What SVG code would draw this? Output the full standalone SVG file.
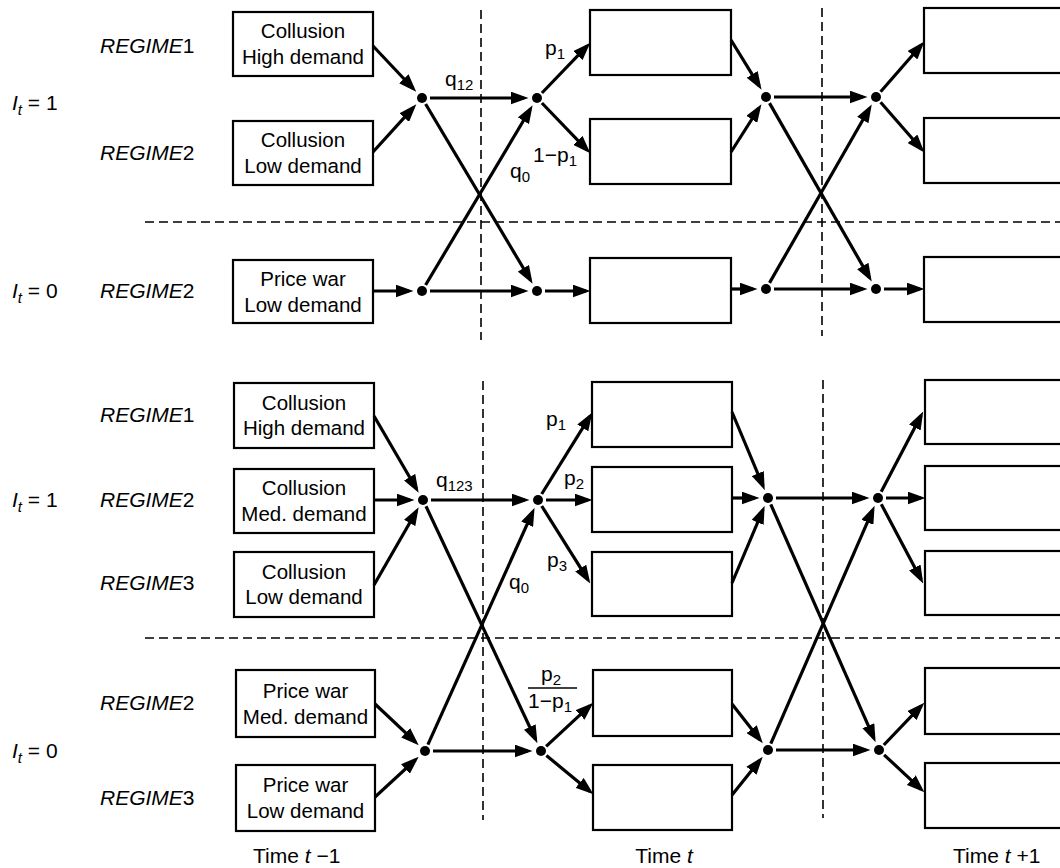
<svg xmlns="http://www.w3.org/2000/svg" width="1060" height="868" viewBox="0 0 1060 868">
<style>
text{font-family:"Liberation Sans",Arial,sans-serif;fill:#000}
.bx{fill:#fff;stroke:#000;stroke-width:2.2}
.bt{font-size:20.5px;text-anchor:middle}
.rg{font-size:21px}
.lb{font-size:21px}
.sb{font-size:15px}
.it{font-style:italic}
.dot{fill:#000}
.ar{stroke:#000;stroke-width:3.2;fill:none;marker-end:url(#ah)}
.dash{stroke:#000;stroke-width:1.6;stroke-dasharray:9 5;fill:none}
</style>
<defs>
<marker id="ah" markerUnits="userSpaceOnUse" markerWidth="18" markerHeight="13" viewBox="0 0 18 13" refX="13.5" refY="6.5" orient="auto">
<path d="M0,0 L18,6.5 L0,13 z" fill="#000"/>
</marker>
</defs>
<rect width="1060" height="868" fill="#fff"/>

<g id="guides">
<line class="dash" x1="481" y1="10" x2="481" y2="340"/>
<line class="dash" x1="822" y1="8" x2="822" y2="336"/>
<line class="dash" x1="145" y1="222" x2="1060" y2="222"/>
<line class="dash" x1="483" y1="381" x2="483" y2="820"/>
<line class="dash" x1="823" y1="380" x2="823" y2="818"/>
<line class="dash" x1="145" y1="638" x2="1060" y2="638"/>
</g>

<g id="row-labels">
<text class="rg" x="100" y="53"><tspan class="it">REGIME</tspan>1</text>
<text class="rg" x="100" y="160"><tspan class="it">REGIME</tspan>2</text>
<text class="lb" x="12" y="110"><tspan class="it">I</tspan><tspan class="it sb" dy="5">t</tspan><tspan dy="-5"> = 1</tspan></text>
<text class="lb" x="12" y="298"><tspan class="it">I</tspan><tspan class="it sb" dy="5">t</tspan><tspan dy="-5"> = 0</tspan></text>
<text class="rg" x="100" y="298"><tspan class="it">REGIME</tspan>2</text>
<text class="rg" x="100" y="422"><tspan class="it">REGIME</tspan>1</text>
<text class="rg" x="100" y="507"><tspan class="it">REGIME</tspan>2</text>
<text class="rg" x="100" y="590"><tspan class="it">REGIME</tspan>3</text>
<text class="lb" x="12" y="507"><tspan class="it">I</tspan><tspan class="it sb" dy="5">t</tspan><tspan dy="-5"> = 1</tspan></text>
<text class="rg" x="100" y="710"><tspan class="it">REGIME</tspan>2</text>
<text class="rg" x="100" y="805"><tspan class="it">REGIME</tspan>3</text>
<text class="lb" x="12" y="758"><tspan class="it">I</tspan><tspan class="it sb" dy="5">t</tspan><tspan dy="-5"> = 0</tspan></text>
</g>

<!-- top section boxes -->
<g id="A-col-high"><rect class="bx" x="233" y="12" width="140" height="64"/><text class="bt" x="303" y="38">Collusion</text><text class="bt" x="303" y="64">High demand</text></g>
<g id="A-col-low"><rect class="bx" x="233" y="121" width="140" height="64"/><text class="bt" x="303" y="147">Collusion</text><text class="bt" x="303" y="173">Low demand</text></g>
<g id="A-pw-low"><rect class="bx" x="233" y="260" width="140" height="63"/><text class="bt" x="303" y="286">Price war</text><text class="bt" x="303" y="312">Low demand</text></g>
<g id="A-t1"><rect class="bx" x="590" y="10" width="141" height="65"/></g>
<g id="A-t2"><rect class="bx" x="590" y="119" width="141" height="65"/></g>
<g id="A-t3"><rect class="bx" x="590" y="258" width="141" height="65"/></g>
<g id="A-n1"><rect class="bx" x="924" y="8" width="140" height="65"/></g>
<g id="A-n2"><rect class="bx" x="924" y="118" width="140" height="65"/></g>
<g id="A-n3"><rect class="bx" x="924" y="257" width="140" height="65"/></g>

<!-- bottom section boxes -->
<g id="B-col-high"><rect class="bx" x="234" y="383" width="140" height="65"/><text class="bt" x="304" y="410">Collusion</text><text class="bt" x="304" y="435">High demand</text></g>
<g id="B-col-med"><rect class="bx" x="234" y="469" width="140" height="64"/><text class="bt" x="304" y="495">Collusion</text><text class="bt" x="304" y="521">Med. demand</text></g>
<g id="B-col-low"><rect class="bx" x="234" y="552" width="140" height="65"/><text class="bt" x="304" y="579">Collusion</text><text class="bt" x="304" y="604">Low demand</text></g>
<g id="B-pw-med"><rect class="bx" x="236" y="670" width="139" height="67"/><text class="bt" x="305.5" y="698">Price war</text><text class="bt" x="305.5" y="724">Med. demand</text></g>
<g id="B-pw-low"><rect class="bx" x="236" y="765" width="139" height="66"/><text class="bt" x="305.5" y="792">Price war</text><text class="bt" x="305.5" y="818">Low demand</text></g>
<g id="B-t1"><rect class="bx" x="592" y="382" width="140" height="65"/></g>
<g id="B-t2"><rect class="bx" x="592" y="467" width="140" height="65"/></g>
<g id="B-t3"><rect class="bx" x="592" y="552" width="140" height="64"/></g>
<g id="B-t4"><rect class="bx" x="593" y="670" width="139" height="66"/></g>
<g id="B-t5"><rect class="bx" x="593" y="765" width="139" height="65"/></g>
<g id="B-n1"><rect class="bx" x="925" y="380" width="140" height="64"/></g>
<g id="B-n2"><rect class="bx" x="925" y="466" width="140" height="64"/></g>
<g id="B-n3"><rect class="bx" x="925" y="551" width="140" height="64"/></g>
<g id="B-n4"><rect class="bx" x="925" y="668" width="140" height="66"/></g>
<g id="B-n5"><rect class="bx" x="925" y="763" width="140" height="65"/></g>

<g id="connectors">
<!-- top -->
<line class="ar" x1="373" y1="46" x2="413.1" y2="88.5"/>
<line class="ar" x1="373" y1="152" x2="413.3" y2="107.6"/>
<line class="ar" x1="430" y1="98" x2="524" y2="98"/>
<line class="ar" x1="425.6" y1="104" x2="530.3" y2="279.8"/>
<line class="ar" x1="425.6" y1="285" x2="530.3" y2="109.2"/>
<line class="ar" x1="541.9" y1="93" x2="587.2" y2="45.9"/>
<line class="ar" x1="541.9" y1="103" x2="587.2" y2="150.1"/>
<line class="ar" x1="373" y1="291" x2="409" y2="291"/>
<line class="ar" x1="430" y1="291" x2="524" y2="291"/>
<line class="ar" x1="545" y1="291" x2="586" y2="291"/>
<line class="ar" x1="731" y1="40" x2="759.2" y2="85.9"/>
<line class="ar" x1="731" y1="152" x2="759" y2="108"/>
<line class="ar" x1="774" y1="97" x2="863" y2="97"/>
<line class="ar" x1="769.5" y1="103.1" x2="869.5" y2="277.7"/>
<line class="ar" x1="769.5" y1="282.9" x2="869.5" y2="108.3"/>
<line class="ar" x1="880.6" y1="91.7" x2="921.4" y2="45"/>
<line class="ar" x1="880.6" y1="102.3" x2="921.4" y2="149"/>
<line class="ar" x1="731" y1="289" x2="753" y2="289"/>
<line class="ar" x1="774" y1="289" x2="863" y2="289"/>
<line class="ar" x1="884" y1="289" x2="920" y2="289"/>
<!-- bottom -->
<line class="ar" x1="374" y1="416" x2="416.4" y2="488.8"/>
<line class="ar" x1="374" y1="500" x2="410" y2="500"/>
<line class="ar" x1="374" y1="585" x2="416.4" y2="511.2"/>
<line class="ar" x1="431" y1="500" x2="525" y2="500"/>
<line class="ar" x1="426" y1="506.3" x2="535.5" y2="739.2"/>
<line class="ar" x1="427.9" y1="744.6" x2="532.7" y2="511.9"/>
<line class="ar" x1="541.7" y1="494" x2="589.9" y2="416.4"/>
<line class="ar" x1="546" y1="500" x2="588" y2="500"/>
<line class="ar" x1="541.7" y1="506" x2="587.9" y2="579.6"/>
<line class="ar" x1="375" y1="704" x2="415.5" y2="742.1"/>
<line class="ar" x1="375" y1="797" x2="415.4" y2="759.8"/>
<line class="ar" x1="433" y1="751" x2="528" y2="751"/>
<line class="ar" x1="546.1" y1="746.3" x2="590" y2="705.7"/>
<line class="ar" x1="546.4" y1="755.5" x2="590" y2="791.5"/>
<line class="ar" x1="732" y1="412" x2="763" y2="486"/>
<line class="ar" x1="732" y1="498" x2="755" y2="498"/>
<line class="ar" x1="732" y1="583" x2="762.9" y2="510"/>
<line class="ar" x1="776" y1="498" x2="865" y2="498"/>
<line class="ar" x1="770.8" y1="504.4" x2="873.8" y2="738.1"/>
<line class="ar" x1="770.8" y1="743.6" x2="872.8" y2="509.9"/>
<line class="ar" x1="881.2" y1="491.8" x2="921.1" y2="415.5"/>
<line class="ar" x1="886" y1="498" x2="921" y2="498"/>
<line class="ar" x1="881.3" y1="504.2" x2="921.1" y2="579.5"/>
<line class="ar" x1="732" y1="704" x2="760" y2="739.8"/>
<line class="ar" x1="732" y1="795" x2="759.9" y2="760.2"/>
<line class="ar" x1="776" y1="750" x2="866" y2="750"/>
<line class="ar" x1="883.8" y1="745" x2="921.2" y2="705.9"/>
<line class="ar" x1="884.1" y1="754.8" x2="921.1" y2="789.3"/>
</g>

<g id="junctions">
<circle class="dot" cx="422" cy="98" r="5"/>
<circle class="dot" cx="537" cy="98" r="5"/>
<circle class="dot" cx="422" cy="291" r="5"/>
<circle class="dot" cx="537" cy="291" r="5"/>
<circle class="dot" cx="766" cy="97" r="5"/>
<circle class="dot" cx="876" cy="97" r="5"/>
<circle class="dot" cx="766" cy="289" r="5"/>
<circle class="dot" cx="876" cy="289" r="5"/>
<circle class="dot" cx="423" cy="500" r="5"/>
<circle class="dot" cx="538" cy="500" r="5"/>
<circle class="dot" cx="425" cy="751" r="5"/>
<circle class="dot" cx="541" cy="751" r="5"/>
<circle class="dot" cx="768" cy="498" r="5"/>
<circle class="dot" cx="878" cy="498" r="5"/>
<circle class="dot" cx="768" cy="750" r="5"/>
<circle class="dot" cx="879" cy="750" r="5"/>
</g>

<g id="edge-labels">
<text class="lb" x="445" y="86">q<tspan class="sb" dy="4">12</tspan></text>
<text class="lb" x="545" y="55">p<tspan class="sb" dy="4">1</tspan></text>
<text class="lb" x="533" y="162">1−p<tspan class="sb" dy="4">1</tspan></text>
<text class="lb" x="510" y="178">q<tspan class="sb" dy="4">0</tspan></text>
<text class="lb" x="436" y="487">q<tspan class="sb" dy="4">123</tspan></text>
<text class="lb" x="546" y="426">p<tspan class="sb" dy="4">1</tspan></text>
<text class="lb" x="564" y="485">p<tspan class="sb" dy="4">2</tspan></text>
<text class="lb" x="547" y="567">p<tspan class="sb" dy="4">3</tspan></text>
<text class="lb" x="509" y="589">q<tspan class="sb" dy="4">0</tspan></text>
<text class="lb" x="541" y="681">p<tspan class="sb" dy="4">2</tspan></text>
<line x1="528" y1="688" x2="577" y2="688" stroke="#000" stroke-width="1.5"/>
<text class="lb" x="528" y="708">1−p<tspan class="sb" dy="4">1</tspan></text>
</g>

<g id="time-labels">
<text class="lb" x="253" y="863">Time <tspan class="it">t</tspan> −1</text>
<text class="lb" x="664" y="863" text-anchor="middle">Time <tspan class="it">t</tspan></text>
<text class="lb" x="953" y="863">Time <tspan class="it">t</tspan> +1</text>
</g>
</svg>
